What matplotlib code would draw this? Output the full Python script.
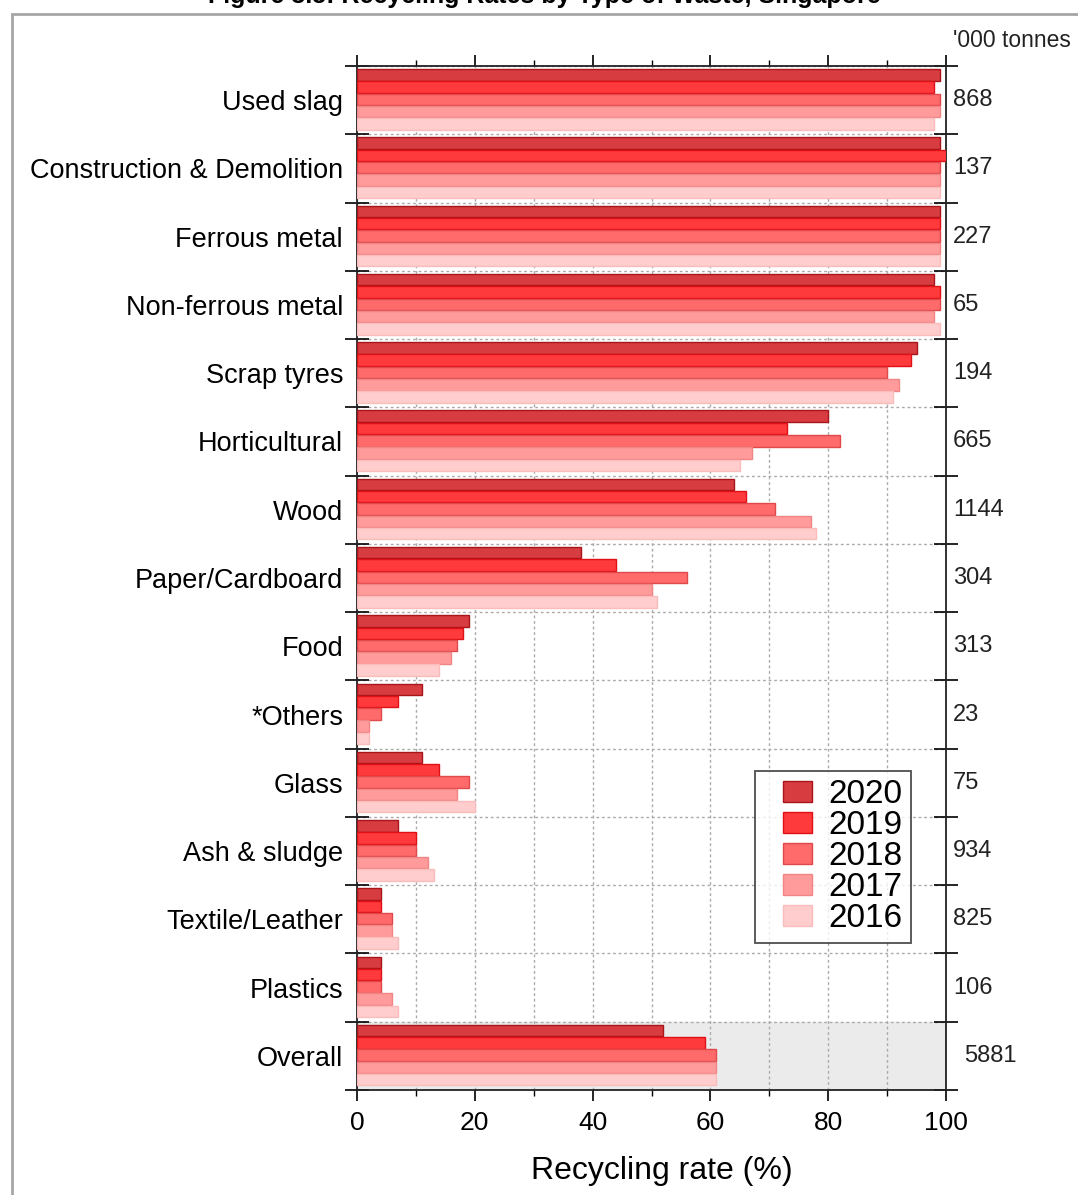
import numpy as np
import matplotlib.pyplot as plt
from matplotlib.patches import Rectangle
from matplotlib.legend_handler import HandlerPatch
from matplotlib.container import BarContainer

plt.rcParams['font.family'] = ['Liberation Sans', 'DejaVu Sans']

categories = ['Used slag', 'Construction & Demolition', 'Ferrous metal', 'Non-ferrous metal',
              'Scrap tyres', 'Horticultural', 'Wood', 'Paper/Cardboard', 'Food', '*Others',
              'Glass', 'Ash & sludge', 'Textile/Leather', 'Plastics', 'Overall']
tonnes = [868, 137, 227, 65, 194, 665, 1144, 304, 313, 23, 75, 934, 825, 106, 5881]
years = ['2020', '2019', '2018', '2017', '2016']
rate_2020 = [99, 99, 99, 98, 95, 80, 64, 38, 19, 11, 11, 7, 4, 4, 52]
rate_2019 = [98, 100, 99, 99, 94, 73, 66, 44, 18, 7, 14, 10, 4, 4, 59]
rate_2018 = [99, 99, 99, 99, 90, 82, 71, 56, 17, 4, 19, 10, 6, 4, 61]
rate_2017 = [99, 99, 99, 98, 92, 67, 77, 50, 16, 2, 17, 12, 6, 6, 61]
rate_2016 = [98, 99, 99, 99, 91, 65, 78, 51, 14, 2, 20, 13, 7, 7, 61]
rates = [rate_2020, rate_2019, rate_2018, rate_2017, rate_2016]
fills = ['#d63c40', '#ff3a3d', '#ff6b6b', '#ff9b9b', '#ffcdcd']
edges = ['#a8161c', '#e01016', '#e0484c', '#f08585', '#fbbcbc']

fig = plt.figure(figsize=(10.78, 11.95), dpi=100)
ax = fig.add_axes([357 / 1078, 1 - 1090 / 1195, 589 / 1078, 1024 / 1195])

# outer frame and clipped title
fig.patches.append(Rectangle((12 / 1078, -0.05), 1.1, 1.05 - 14 / 1195, transform=fig.transFigure,
                             fill=False, edgecolor='#a6a6a6', linewidth=2, clip_on=False))
fig.text(0.505, 1.003, 'Figure 3.5: Recycling Rates by Type of Waste, Singapore', ha='center', va='center',
         fontsize=18, fontweight='bold')

n = len(categories)
y = np.arange(n)
pitch = 0.18
h = 0.168
for j in range(len(years)):
    ax.barh(y + 0.13 + j * pitch, rates[j], height=h, color=fills[j], edgecolor=edges[j],
            linewidth=1, label=years[j], zorder=3)

ax.axhspan(n - 1, n, color='#ebebeb', zorder=0)

ax.set_xlim(0, 100)
ax.set_ylim(n, 0)
ax.set_xticks(np.arange(0, 101, 20))
ax.set_xticks(np.arange(10, 100, 20), minor=True)
ax.set_yticks(y + 0.5)
ax.set_yticklabels(categories, fontsize=19.5)
ax.set_yticks(np.arange(0, n + 1), minor=True)
ax.tick_params(axis='y', which='major', length=0, pad=10)
ax.tick_params(axis='y', which='minor', direction='inout', length=17, width=1.2, right=True)
ax.tick_params(axis='x', which='major', direction='out', length=8, width=1.2, top=True, labelsize=19, pad=7)
ax.tick_params(axis='x', which='minor', direction='out', length=4, width=1, top=True)
ax.grid(axis='x', which='both', linestyle=(0, (2, 2)), color='#aaaaaa', linewidth=1)
ax.grid(axis='y', which='minor', linestyle=(0, (2, 2)), color='#aaaaaa', linewidth=1)
ax.set_axisbelow(True)
for s in ax.spines.values():
    s.set_linewidth(1.3)
    s.set_color('#222222')
ax.set_xlabel('Recycling rate (%)', fontsize=23, labelpad=15, x=0.517)

for i, t in enumerate(tonnes):
    ax.text(1.012 if t < 5000 else 1.03, 1 - (i + 0.5) / n, str(t), transform=ax.transAxes,
            ha='left', va='center', fontsize=17, color='#222222')
ax.text(1.012, 1.025, "'000 tonnes", transform=ax.transAxes, ha='left', va='center',
        fontsize=16.5, color='#222222')


def square_patch(legend, orig_handle, xdescent, ydescent, width, height, fontsize):
    # swatch sits at the right end of the handle box, leaving a gap at the left
    return Rectangle((-xdescent + width * 0.4, -ydescent), width * 0.6, height)


def copy_style(legend_handle, orig_handle):
    legend_handle.update_from(orig_handle.patches[0])


leg = ax.legend(loc='upper left', bbox_to_anchor=(0.676, 0.3115), fontsize=24, frameon=True,
                fancybox=False, edgecolor='#222222', handlelength=1.45, handleheight=0.62,
                handletextpad=0.5, labelspacing=0.0, borderpad=0.25, borderaxespad=0,
                handler_map={BarContainer: HandlerPatch(patch_func=square_patch, update_func=copy_style)})
leg.get_frame().set_linewidth(1.3)

fig.savefig('out.png', dpi=100)
